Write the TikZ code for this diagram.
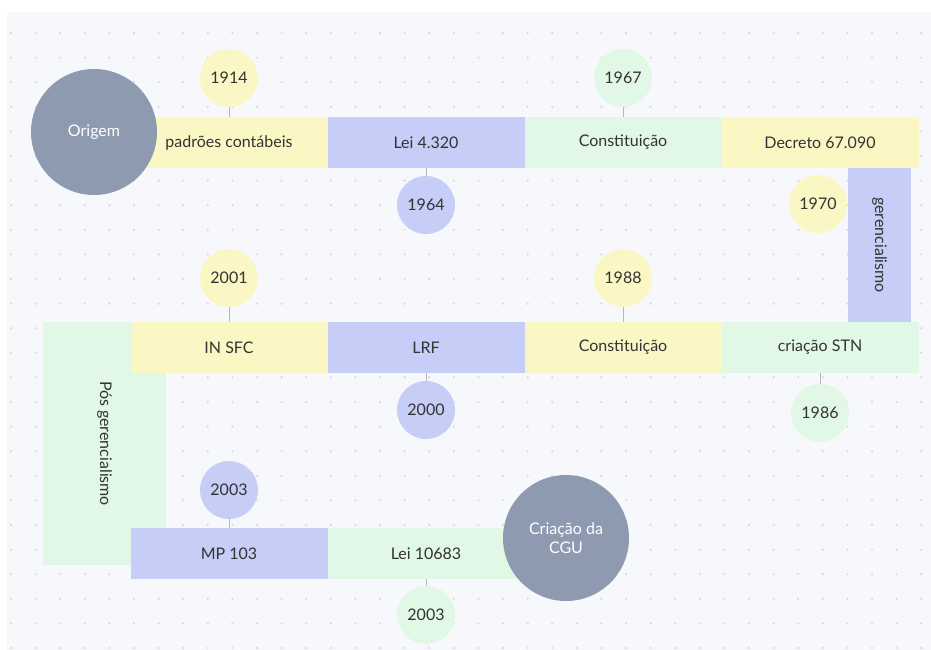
\documentclass[tikz,border=0pt]{standalone}
\usepackage{fontspec}
\setmainfont{Lato}
\usepackage{tikz}
\usetikzlibrary{shapes}
\definecolor{amarelo}{HTML}{FBF7C4}
\definecolor{azul}{HTML}{C6CDF6}
\definecolor{verde}{HTML}{E2F8E6}
\definecolor{cinza}{HTML}{8D9AAF}
\definecolor{fundo}{HTML}{F7F8FC}
\definecolor{ponto}{HTML}{D9DCE3}
\definecolor{texto}{HTML}{333333}
\definecolor{hastecor}{HTML}{B4B8C4}
\tikzset{
	bar/.style    = {rectangle, minimum width = 197pt, minimum height = 51pt,
		inner sep = 0pt, text = texto},
	vbar/.style   = {rectangle, inner sep = 0pt, text = texto, rotate = -90},
	ano/.style    = {circle, minimum size = 58pt, inner sep = 0pt, text = texto},
	marco/.style  = {circle, fill = cinza, minimum size = 126pt, inner sep = 0pt,
		text = white, align = center},
	haste/.style  = {draw = hastecor, line width = 0.8pt}
}

\begin{document}
\begin{tikzpicture}[x=1pt, y=-1pt, font=\fontsize{16}{19}\selectfont]

	% fundo com pontos
	\useasboundingbox (0,0) rectangle (931,650);
	\fill[white] (0,0) rectangle (931,650);
	\fill[fundo] (7,12) rectangle (931,650);
	\foreach \i in {0,...,37}
		\foreach \j in {0,...,25}
			\fill[ponto] (11+24.6*\i, 33+24.6*\j) circle (1.3);

	% faixas verticais
	\draw
	node at (879.5,245) [vbar, fill=azul, minimum width=154pt, minimum height=63pt] (ger) {gerencialismo}
	node at (104.5,443.5) [vbar, fill=verde, minimum width=243pt, minimum height=123pt] (posger) {Pós gerencialismo};

	% linha de cima
	\draw
	node at (229,142.5) [bar, fill=amarelo] (pc) {padrões contábeis}
	node at (426,142.5) [bar, fill=azul] (lei4320) {Lei 4.320}
	node at (623,142.5) [bar, fill=verde] (const67) {Constituição}
	node at (820,142.5) [bar, fill=amarelo] (dec) {Decreto 67.090};

	% linha do meio
	\draw
	node at (229,347.5) [bar, fill=amarelo] (insfc) {IN SFC}
	node at (426,347.5) [bar, fill=azul] (lrf) {LRF}
	node at (623,347.5) [bar, fill=amarelo] (const88) {Constituição}
	node at (820,347.5) [bar, fill=verde] (stn) {criação STN};

	% linha de baixo
	\draw
	node at (229,553.5) [bar, fill=azul] (mp) {MP 103}
	node at (426,553.5) [bar, fill=verde] (lei10683) {Lei 10683};

	% anos
	\draw
	node at (229,78) [ano, fill=amarelo] (a1914) {1914}
	node at (426,205) [ano, fill=azul] (a1964) {1964}
	node at (623,78) [ano, fill=verde] (a1967) {1967}
	node at (818,204) [ano, fill=amarelo] (a1970) {1970}
	node at (229,278) [ano, fill=amarelo] (a2001) {2001}
	node at (426,410) [ano, fill=azul] (a2000) {2000}
	node at (623,278) [ano, fill=amarelo] (a1988) {1988}
	node at (820,413) [ano, fill=verde] (a1986) {1986}
	node at (229,490) [ano, fill=azul] (a2003a) {2003}
	node at (426,615) [ano, fill=verde] (a2003b) {2003};

	\draw[haste](a1914)--(pc);
	\draw[haste](a1964)--(lei4320);
	\draw[haste](a1967)--(const67);
	\draw[haste](a2001)--(insfc);
	\draw[haste](a2000)--(lrf);
	\draw[haste](a1988)--(const88);
	\draw[haste](a1986)--(stn);
	\draw[haste](a2003a)--(mp);
	\draw[haste](a2003b)--(lei10683);

	% inicio e fim
	\draw
	node at (94,132) [marco] (origem) {Origem}
	node at (566,538) [marco] (cgu) {Criação da\\CGU};

\end{tikzpicture}
\end{document}
